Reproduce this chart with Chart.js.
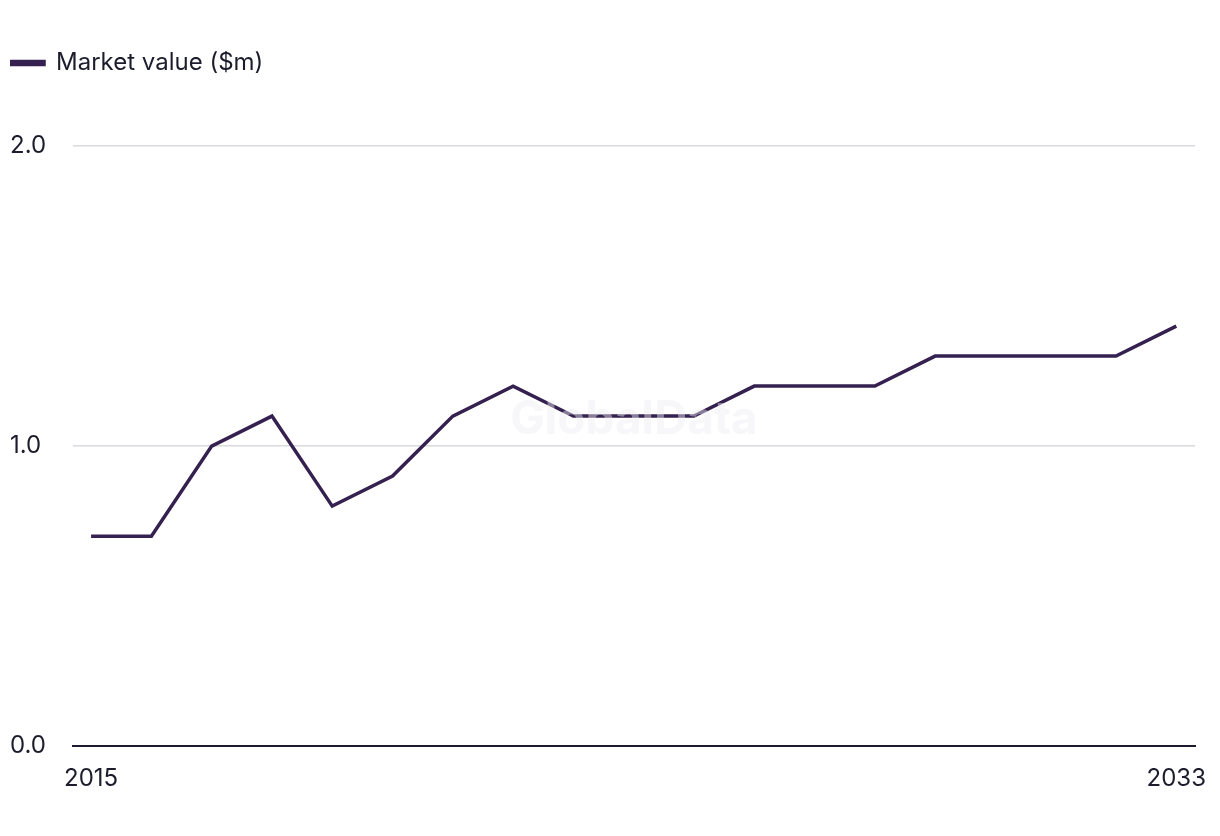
<!DOCTYPE html>
<html>
<head>
<meta charset="utf-8">
<script src="https://cdn.jsdelivr.net/npm/chart.js@4.4.1/dist/chart.umd.min.js"></script>
<style>
  html, body { margin: 0; padding: 0; background: #fff; }
  #wrap { width: 1220px; height: 836px; }
</style>
</head>
<body>
<div id="wrap"><canvas id="marketChart"></canvas></div>
<script>
const years = [2015, 2016, 2017, 2018, 2019, 2020, 2021, 2022, 2023, 2024, 2025, 2026, 2027, 2028, 2029, 2030, 2031, 2032, 2033];
const marketValue = [0.7, 0.7, 1.0, 1.1, 0.8, 0.9, 1.1, 1.2, 1.1, 1.1, 1.1, 1.2, 1.2, 1.2, 1.3, 1.3, 1.3, 1.3, 1.4];
const yTicks = [0, 1, 2];
const xTicks = [2015, 2033];

const lineColor = '#34214f';
const textColor = '#1c1c2c';
const fontFamily = 'Inter, "Liberation Sans", sans-serif';

// faint watermark in the middle of the plot
const watermark = {
    id: 'watermark',
    afterDatasetsDraw(chart) {
        const { ctx, chartArea } = chart;
        ctx.save();
        ctx.font = 'bold 46px ' + fontFamily;
        ctx.fillStyle = 'rgba(238, 238, 242, 0.45)';
        ctx.textAlign = 'center';
        ctx.textBaseline = 'middle';
        ctx.fillText('GlobalData', (chartArea.left + chartArea.right) / 2, 420);
        ctx.restore();
    }
};

// leave a gap under the legend before the plot starts
const legendGap = {
    id: 'legendGap',
    beforeLayout(chart) {
        const lg = chart.legend;
        if (lg && !lg._gapped) {
            const fit = lg.fit.bind(lg);
            lg.fit = function () { fit(); this.height += 61; };
            lg._gapped = true;
        }
    }
};

const ctx = document.getElementById('marketChart').getContext('2d');
new Chart(ctx, {
    type: 'line',
    data: {
        datasets: [{
            label: 'Market value ($m)',
            data: years.map((y, i) => ({ x: y, y: marketValue[i] })),
            borderColor: lineColor,
            backgroundColor: lineColor,
            borderWidth: 3.5,
            pointRadius: 0,
            tension: 0
        }]
    },
    options: {
        responsive: true,
        maintainAspectRatio: false,
        animation: false,
        layout: { padding: { left: 10, right: 25, top: 51, bottom: 33 } },
        plugins: {
            legend: {
                align: 'start',
                labels: {
                    boxWidth: 34,
                    boxHeight: 3,
                    color: textColor,
                    font: { family: fontFamily, size: 24 },
                    padding: 0
                }
            },
            tooltip: { enabled: false }
        },
        scales: {
            x: {
                type: 'linear',
                min: 2014.7,
                max: 2033.31,
                afterBuildTicks: scale => { scale.ticks = xTicks.map(v => ({ value: v })); },
                grid: { display: false },
                border: { display: true, color: '#1c1c2c', width: 2 },
                ticks: {
                    color: textColor,
                    font: { family: fontFamily, size: 24 },
                    maxRotation: 0,
                    padding: 10,
                    callback: v => String(v)
                }
            },
            y: {
                min: 0,
                max: 2,
                afterBuildTicks: scale => { scale.ticks = yTicks.map(v => ({ value: v })); },
                afterFit: scale => { scale.width = 63; },
                grid: { color: '#d9d9de', lineWidth: 1.5, drawTicks: false },
                border: { display: false },
                ticks: {
                    color: textColor,
                    font: { family: fontFamily, size: 24 },
                    crossAlign: 'far',
                    padding: 0,
                    callback: v => v.toFixed(1)
                }
            }
        }
    },
    plugins: [watermark, legendGap]
});
</script>
</body>
</html>
